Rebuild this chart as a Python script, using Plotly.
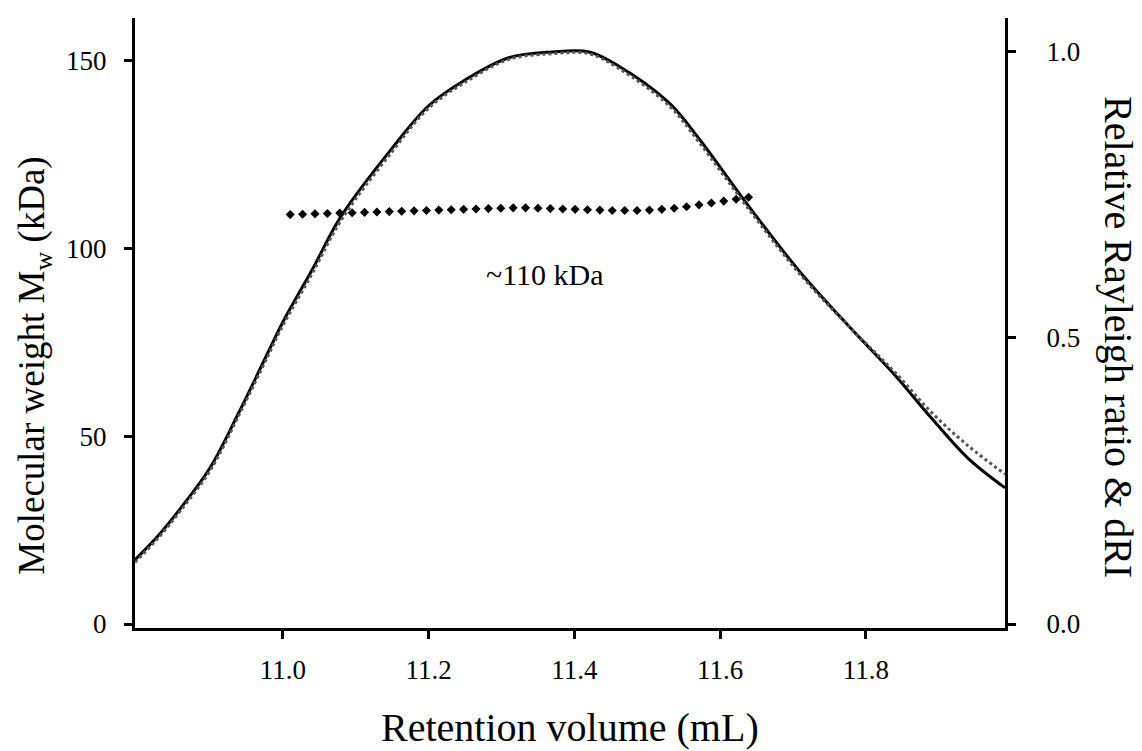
import plotly.graph_objects as go

# Rayleigh ratio / dRI traces (normalised)
volume = [10.797, 10.83, 10.86, 10.90, 10.94, 10.98, 11.00, 11.04, 11.08, 11.15, 11.20,
          11.25, 11.31, 11.37, 11.42, 11.46, 11.53, 11.57, 11.64, 11.71, 11.78, 11.84,
          11.89, 11.94, 11.991]
rayleigh = [0.112, 0.156, 0.203, 0.273, 0.371, 0.476, 0.528, 0.619, 0.713, 0.832, 0.906,
            0.951, 0.990, 1.000, 1.000, 0.976, 0.911, 0.850, 0.729, 0.615, 0.516, 0.435,
            0.360, 0.290, 0.238]
dri = [0.108, 0.152, 0.199, 0.268, 0.366, 0.470, 0.522, 0.612, 0.706, 0.826, 0.902,
       0.947, 0.987, 0.997, 0.997, 0.972, 0.906, 0.844, 0.724, 0.611, 0.516, 0.440,
       0.370, 0.312, 0.262]

# molar mass across the peak (kDa)
mw_volume = [11.010, 11.027, 11.044, 11.061, 11.078, 11.095, 11.112, 11.129, 11.146, 11.163,
             11.180, 11.197, 11.214, 11.231, 11.248, 11.265, 11.282, 11.299, 11.316, 11.333,
             11.350, 11.367, 11.384, 11.401, 11.418, 11.435, 11.452, 11.469, 11.486, 11.503,
             11.520, 11.537, 11.554, 11.571, 11.588, 11.605, 11.622, 11.639]
mw = [108.9, 109.0, 109.1, 109.2, 109.3, 109.4, 109.5, 109.6, 109.7, 109.8,
      109.9, 110.0, 110.1, 110.2, 110.3, 110.4, 110.5, 110.6, 110.7, 110.7,
      110.6, 110.5, 110.4, 110.3, 110.2, 110.1, 110.0, 110.0, 110.0, 110.1,
      110.3, 110.6, 111.0, 111.5, 112.0, 112.5, 113.0, 113.5]

x_ticks = [11.0, 11.2, 11.4, 11.6, 11.8]
left_ticks = [0, 50, 100, 150]
right_ticks = [0.0, 0.5, 1.0]

FONT = "Liberation Serif, Times New Roman, serif"

fig = go.Figure()

fig.add_trace(go.Scatter(
    x=volume, y=rayleigh, mode='lines', yaxis='y2',
    line=dict(color='black', width=3, shape='spline'),
    showlegend=False
))
fig.add_trace(go.Scatter(
    x=volume, y=dri, mode='lines', yaxis='y2',
    line=dict(color='#555555', width=3, dash='dot', shape='spline'),
    showlegend=False
))
fig.add_trace(go.Scatter(
    x=mw_volume, y=mw, mode='markers', yaxis='y',
    marker=dict(symbol='diamond', size=7, color='black'),
    showlegend=False
))

fig.add_annotation(
    x=11.36, y=93, xref='x', yref='y', text='~110 kDa', showarrow=False,
    font=dict(family=FONT, size=30, color='black')
)

# axis titles as annotations (the right one reads top to bottom)
fig.add_annotation(
    x=0.5, y=0, xref='paper', yref='paper', yshift=-99, yanchor='middle',
    text='Retention volume (mL)', showarrow=False,
    font=dict(family=FONT, size=40, color='black')
)
fig.add_annotation(
    x=0, y=0.43, xref='paper', yref='paper', xshift=-100, xanchor='center',
    text='Molecular weight M<sub>w</sub> (kDa)', textangle=-90, showarrow=False,
    font=dict(family=FONT, size=37, color='black')
)
fig.add_annotation(
    x=1, y=0.477, xref='paper', yref='paper', xshift=114, xanchor='center',
    text='Relative Rayleigh ratio &amp; dRI', textangle=90, showarrow=False,
    font=dict(family=FONT, size=40, color='black')
)

axis_common = dict(
    showgrid=False, zeroline=False, showline=True, linecolor='black', linewidth=3,
    ticks='outside', ticklen=8, tickwidth=3, tickcolor='black',
    tickfont=dict(family=FONT, size=27, color='black'),
)

# page body has an 8px margin, so the figure is shrunk by that much
fig.update_layout(
    width=1134, height=743,
    margin=dict(l=127, r=137, t=10, b=123),
    paper_bgcolor='white', plot_bgcolor='white',
    font=dict(family=FONT, color='black'),
    xaxis=dict(
        range=[10.797, 11.991], tickvals=x_ticks, ticktext=[f'{v:.1f}' for v in x_ticks],
        ticklabelstandoff=8, **axis_common
    ),
    yaxis=dict(
        range=[-1.06, 161.2], tickvals=left_ticks, ticklabelstandoff=12,
        **axis_common
    ),
    yaxis2=dict(
        range=[-0.007, 1.0594], tickvals=right_ticks, ticktext=[f'{v:.1f}' for v in right_ticks],
        overlaying='y', side='right', ticklabelstandoff=25,
        **axis_common
    ),
)

fig.write_html("out.html")
